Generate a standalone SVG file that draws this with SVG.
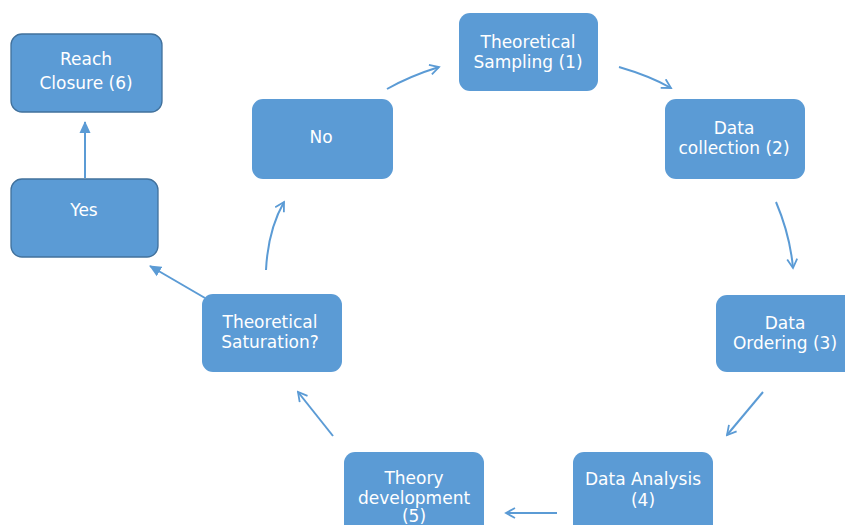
<svg xmlns="http://www.w3.org/2000/svg" width="845" height="525" viewBox="0 0 845 525">
<defs>
<style>
.box{fill:#5b9bd5;}
.box2{fill:#5b9bd5;stroke:#41719c;stroke-width:1.3;}
.t{font-family:"DejaVu Sans","Open Sans",sans-serif;font-size:17px;fill:#ffffff;text-anchor:middle;}
.c{fill:none;stroke:#5b9bd5;stroke-width:2;}
</style>
<marker id="open" viewBox="0 0 12 12" refX="10" refY="6" markerWidth="12" markerHeight="12" markerUnits="userSpaceOnUse" orient="auto">
<path d="M1,1 L10,6 L1,11" fill="none" stroke="#5b9bd5" stroke-width="1.8"/>
</marker>
<marker id="solid" viewBox="0 0 12 12" refX="11" refY="6" markerWidth="12" markerHeight="12" markerUnits="userSpaceOnUse" orient="auto">
<path d="M0,0.5 L12,6 L0,11.5 Z" fill="#5b9bd5"/>
</marker>
</defs>
<rect width="845" height="525" fill="#ffffff"/>
<g id="connectors">
<path class="c" d="M85,178 L85,122" marker-end="url(#solid)"/>
<path class="c" d="M205,298 L150,266" marker-end="url(#solid)"/>
<path class="c" d="M266,270 Q268,230 284,202" marker-end="url(#open)"/>
<path class="c" d="M387,89 Q410,76 439,67" marker-end="url(#open)"/>
<path class="c" d="M619,67 Q650,76 671,88" marker-end="url(#open)"/>
<path class="c" d="M776,202 Q790,235 793,268" marker-end="url(#open)"/>
<path class="c" d="M763,392 L727,435" marker-end="url(#open)"/>
<path class="c" d="M557,513 L506,513" marker-end="url(#open)"/>
<path class="c" d="M333,436 L298,392" marker-end="url(#open)"/>
</g>
<g id="reach-closure">
<rect class="box2" x="11" y="34" width="151" height="78" rx="11"/>
<text class="t" x="86" y="65">Reach</text>
<text class="t" x="86" y="89">Closure (6)</text>
</g>
<g id="yes">
<rect class="box2" x="11" y="179" width="147" height="78" rx="11"/>
<text class="t" x="84" y="216">Yes</text>
</g>
<g id="no">
<rect class="box" x="252" y="99" width="141" height="80" rx="11"/>
<text class="t" x="321" y="143">No</text>
</g>
<g id="theoretical-sampling">
<rect class="box" x="459" y="13" width="139" height="78" rx="11"/>
<text class="t" x="528" y="48">Theoretical</text>
<text class="t" x="528" y="68">Sampling (1)</text>
</g>
<g id="data-collection">
<rect class="box" x="665" y="99" width="140" height="80" rx="11"/>
<text class="t" x="734" y="134">Data</text>
<text class="t" x="734" y="154">collection (2)</text>
</g>
<g id="data-ordering">
<rect class="box" x="716" y="295" width="140" height="77" rx="11"/>
<text class="t" x="785" y="329">Data</text>
<text class="t" x="785" y="349">Ordering (3)</text>
</g>
<g id="data-analysis">
<rect class="box" x="573" y="452" width="140" height="85" rx="11"/>
<text class="t" x="643" y="485">Data Analysis</text>
<text class="t" x="643" y="506">(4)</text>
</g>
<g id="theory-development">
<rect class="box" x="344" y="452" width="140" height="85" rx="11"/>
<text class="t" x="414" y="484">Theory</text>
<text class="t" x="414" y="504">development</text>
<text class="t" x="414" y="522">(5)</text>
</g>
<g id="theoretical-saturation">
<rect class="box" x="202" y="294" width="140" height="78" rx="11"/>
<text class="t" x="270" y="328">Theoretical</text>
<text class="t" x="270" y="348">Saturation?</text>
</g>
</svg>
